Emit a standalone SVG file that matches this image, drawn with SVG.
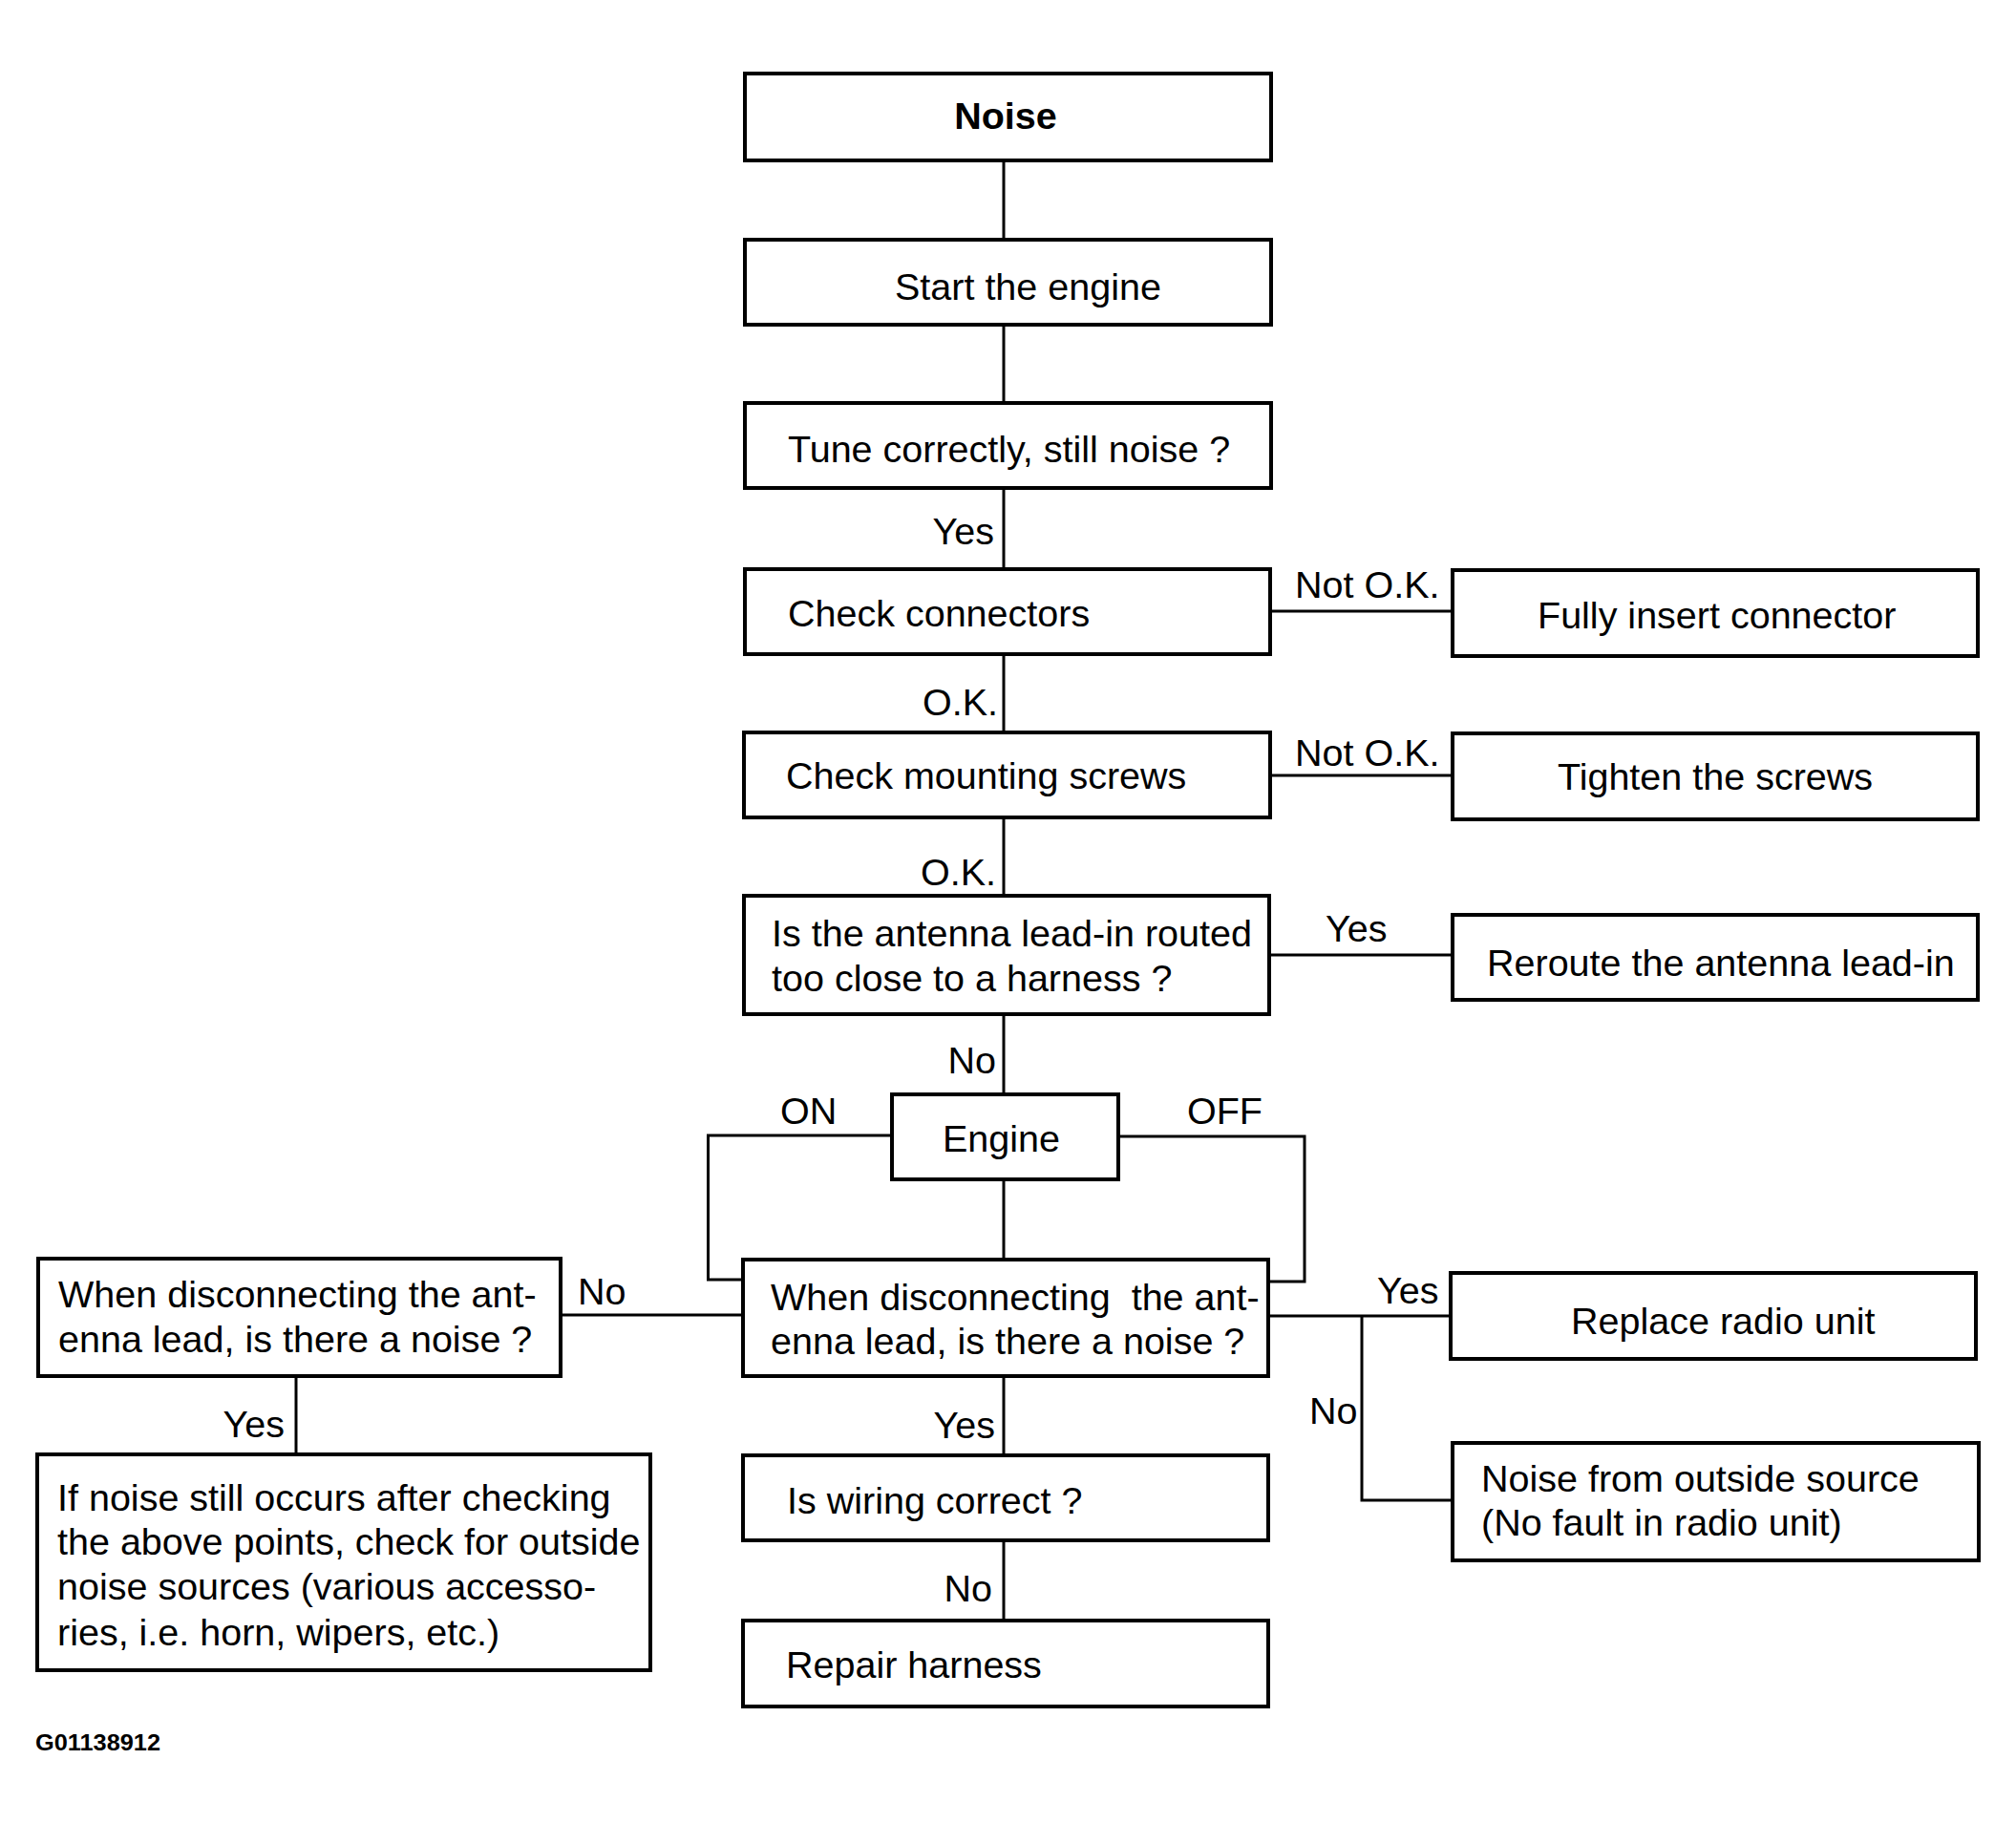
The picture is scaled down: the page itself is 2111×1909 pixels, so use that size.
<svg xmlns="http://www.w3.org/2000/svg" width="2111" height="1909" viewBox="0 0 2111 1909">
<style>
  .box { fill: #ffffff; stroke: #000000; stroke-width: 4; }
  .con { fill: none; stroke: #000000; stroke-width: 3; }
  text { font-family: "Liberation Sans", Arial, Helvetica, sans-serif; font-size: 39.5px; fill: #000000; }
  .lbl { text-anchor: end; }
  .bold { font-weight: bold; }
  .code { font-size: 24px; font-weight: bold; }
</style>
<rect x="0" y="0" width="2111" height="1909" fill="#ffffff"/>

<g id="connectors">
  <path class="con" d="M1051,168 V251"/>
  <path class="con" d="M1051,340 V422"/>
  <path class="con" d="M1051,511 V596"/>
  <path class="con" d="M1051,685 V767"/>
  <path class="con" d="M1051,856 V938"/>
  <path class="con" d="M1051,1062 V1146"/>
  <path class="con" d="M1051,1235 V1319"/>
  <path class="con" d="M1051,1441 V1524"/>
  <path class="con" d="M1051,1613 V1697"/>
  <path class="con" d="M1330,640 H1521"/>
  <path class="con" d="M1330,812 H1521"/>
  <path class="con" d="M1329,1000 H1521"/>
  <path class="con" d="M934,1189 H741.5 V1340 H778"/>
  <path class="con" d="M1171,1190 H1366 V1342 H1328"/>
  <path class="con" d="M778,1377 H587"/>
  <path class="con" d="M310,1441 V1523"/>
  <path class="con" d="M1328,1378 H1519"/>
  <path class="con" d="M1426,1378 V1571 H1521"/>
  <text class="lbl" x="1041" y="570">Yes</text>
  <text class="lbl" x="1045" y="749">O.K.</text>
  <text class="lbl" x="1043" y="927">O.K.</text>
  <text class="lbl" x="1043" y="1124">No</text>
  <text class="lbl" x="1042" y="1506">Yes</text>
  <text class="lbl" x="1039" y="1677">No</text>
  <text x="1356" y="626">Not O.K.</text>
  <text x="1356" y="802">Not O.K.</text>
  <text x="1388" y="986">Yes</text>
  <text x="817" y="1177">ON</text>
  <text x="1243" y="1177">OFF</text>
  <text x="605" y="1366">No</text>
  <text class="lbl" x="298" y="1505">Yes</text>
  <text x="1442" y="1365">Yes</text>
  <text x="1371" y="1491">No</text>
</g>

<g id="n-noise">
  <rect class="box" x="780" y="77" width="551" height="91"/>
  <text class="bold" x="1053" y="135" text-anchor="middle">Noise</text>
</g>
<g id="n-start">
  <rect class="box" x="780" y="251" width="551" height="89"/>
  <text x="937" y="314">Start the engine</text>
</g>
<g id="n-tune">
  <rect class="box" x="780" y="422" width="551" height="89"/>
  <text x="825" y="484">Tune correctly, still noise ?</text>
</g>
<g id="n-connectors">
  <rect class="box" x="780" y="596" width="550" height="89"/>
  <text x="825" y="656">Check connectors</text>
</g>
<g id="n-insert">
  <rect class="box" x="1521" y="597" width="550" height="90"/>
  <text x="1610" y="658">Fully insert connector</text>
</g>
<g id="n-mounting">
  <rect class="box" x="779" y="767" width="551" height="89"/>
  <text x="823" y="826">Check mounting screws</text>
</g>
<g id="n-tighten">
  <rect class="box" x="1521" y="768" width="550" height="90"/>
  <text x="1631" y="827">Tighten the screws</text>
</g>
<g id="n-antenna">
  <rect class="box" x="779" y="938" width="550" height="124"/>
  <text x="808" y="991">Is the antenna lead-in routed</text>
  <text x="808" y="1038">too close to a harness ?</text>
</g>
<g id="n-reroute">
  <rect class="box" x="1521" y="958" width="550" height="89"/>
  <text x="1557" y="1022">Reroute the antenna lead-in</text>
</g>
<g id="n-engine">
  <rect class="box" x="934" y="1146" width="237" height="89"/>
  <text x="987" y="1206">Engine</text>
</g>
<g id="n-disc-center">
  <rect class="box" x="778" y="1319" width="550" height="122"/>
  <text x="807" y="1372" xml:space="preserve">When disconnecting  the ant-</text>
  <text x="807" y="1418">enna lead, is there a noise ?</text>
</g>
<g id="n-disc-left">
  <rect class="box" x="40" y="1318" width="547" height="123"/>
  <text x="61" y="1369">When disconnecting the ant-</text>
  <text x="61" y="1416">enna lead, is there a noise ?</text>
</g>
<g id="n-replace">
  <rect class="box" x="1519" y="1333" width="550" height="90"/>
  <text x="1645" y="1397">Replace radio unit</text>
</g>
<g id="n-outside">
  <rect class="box" x="1521" y="1511" width="551" height="123"/>
  <text x="1551" y="1562">Noise from outside source</text>
  <text x="1551" y="1608">(No fault in radio unit)</text>
</g>
<g id="n-ifnoise">
  <rect class="box" x="39" y="1523" width="642" height="226"/>
  <text x="60" y="1582">If noise still occurs after checking</text>
  <text x="60" y="1628">the above points, check for outside</text>
  <text x="60" y="1675">noise sources (various accesso-</text>
  <text x="60" y="1723">ries, i.e. horn, wipers, etc.)</text>
</g>
<g id="n-wiring">
  <rect class="box" x="778" y="1524" width="550" height="89"/>
  <text x="824" y="1585">Is wiring correct ?</text>
</g>
<g id="n-repair">
  <rect class="box" x="778" y="1697" width="550" height="90"/>
  <text x="823" y="1757">Repair harness</text>
</g>

<text class="code" x="37" y="1833" textLength="131" lengthAdjust="spacingAndGlyphs">G01138912</text>
</svg>
